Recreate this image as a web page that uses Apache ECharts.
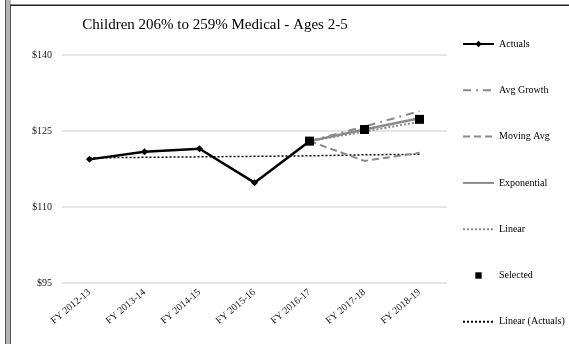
<!DOCTYPE html>
<html>
<head>
<meta charset="utf-8">
<script src="https://cdn.jsdelivr.net/npm/echarts@6/dist/echarts.min.js"></script>
<style>
  html, body { margin: 0; padding: 0; background: #fff; }
  #chart { width: 569px; height: 344px; }
</style>
</head>
<body>
<div id="chart"></div>
<script>
// Fiscal years on the category axis
const categories = ['FY 2012-13', 'FY 2013-14', 'FY 2014-15', 'FY 2015-16', 'FY 2016-17', 'FY 2017-18', 'FY 2018-19'];

// Per-member cost, actual and projected
const actuals        = [119.4, 120.9, 121.5, 114.8, 123.0, null, null];
const avgGrowth      = [null, null, null, null, 123.0, 125.9, 128.9];
const movingAvg      = [null, null, null, null, 123.0, 119.1, 120.7];
const exponential    = [null, null, null, null, 123.0, 125.3, 127.5];
const linear         = [null, null, null, null, 123.0, 124.9, 126.8];
const selected       = [null, null, null, null, 123.0, 125.3, 127.3];
const linearActuals  = [119.7, 119.8, 119.9, 120.0, 120.1, 120.3, 120.4];

// Value axis ticks
const yTicks = [95, 110, 125, 140];

const FONT = '"Liberation Serif", "DejaVu Serif", serif';
const GRAY = '#8a8a8a';

const chart = echarts.init(document.getElementById('chart'), null, { renderer: 'canvas' });

function lineSeries(name, data, color, width, type, extra) {
  return Object.assign({
    name: name,
    type: 'line',
    data: data,
    symbol: 'none',
    connectNulls: false,
    lineStyle: { color: color, width: width, type: type },
    itemStyle: { color: color },
    animation: false
  }, extra || {});
}

// Legend entries; line-only entries hide the legend marker
const noMarker = { opacity: 0 };

chart.setOption({
  animation: false,
  title: {
    text: 'Children 206% to 259% Medical - Ages 2-5',
    left: 210,
    textAlign: 'center',
    top: 13,
    textStyle: { fontFamily: FONT, fontSize: 15, fontWeight: 'normal', color: '#000' }
  },
  graphic: [
    { type: 'rect', shape: { x: 5, y: 0, width: 6, height: 344 }, style: { fill: '#b4b4b4' } },
    { type: 'rect', shape: { x: 5, y: 0, width: 1, height: 344 }, style: { fill: '#555' } },
    { type: 'rect', shape: { x: 10, y: 5, width: 1, height: 339 }, style: { fill: '#555' } },
    { type: 'rect', shape: { x: 10, y: 4.5, width: 559, height: 1.5 }, style: { fill: '#222' } }
  ],
  legend: {
    orient: 'vertical',
    left: 462,
    top: 39,
    padding: 0,
    itemWidth: 31,
    itemHeight: 8,
    itemGap: 36.3,
    textStyle: { fontFamily: FONT, fontSize: 10, color: '#000' },
    data: [
      { name: 'Actuals' },
      { name: 'Avg Growth', itemStyle: noMarker },
      { name: 'Moving Avg', itemStyle: noMarker },
      { name: 'Exponential', itemStyle: noMarker },
      { name: 'Linear', itemStyle: noMarker },
      { name: 'Selected' },
      { name: 'Linear (Actuals)', itemStyle: noMarker }
    ]
  },
  grid: { left: 62, right: 122, top: 55, bottom: 61, containLabel: false },
  xAxis: {
    type: 'category',
    data: categories,
    boundaryGap: true,
    axisLine: { show: false },
    axisTick: { show: false },
    axisLabel: {
      rotate: 40,
      fontFamily: FONT,
      fontSize: 10,
      color: '#222',
      margin: 8,
      interval: 0
    }
  },
  yAxis: {
    type: 'value',
    min: yTicks[0],
    max: yTicks[yTicks.length - 1],
    interval: yTicks[1] - yTicks[0],
    axisLine: { show: false },
    axisTick: { show: false },
    splitLine: { lineStyle: { color: '#dcdcdc', width: 1.5 } },
    axisLabel: {
      fontFamily: FONT,
      fontSize: 10,
      color: '#222',
      margin: 10,
      formatter: v => '$' + v
    }
  },
  series: [
    lineSeries('Linear (Actuals)', linearActuals, '#000', 1.5, [2, 2]),
    lineSeries('Linear', linear, GRAY, 2, [2, 2]),
    lineSeries('Moving Avg', movingAvg, GRAY, 2, [7, 4]),
    lineSeries('Avg Growth', avgGrowth, GRAY, 2, [8, 5, 2, 5]),
    lineSeries('Exponential', exponential, GRAY, 2.5, 'solid'),
    lineSeries('Actuals', actuals, '#000', 2.5, 'solid', {
      symbol: 'diamond',
      symbolSize: 7,
      showSymbol: true
    }),
    lineSeries('Selected', selected, '#000', 0, 'solid', {
      symbol: 'rect',
      symbolSize: 9,
      showSymbol: true,
      lineStyle: { opacity: 0, width: 0 },
      z: 5
    })
  ]
});
</script>
</body>
</html>
